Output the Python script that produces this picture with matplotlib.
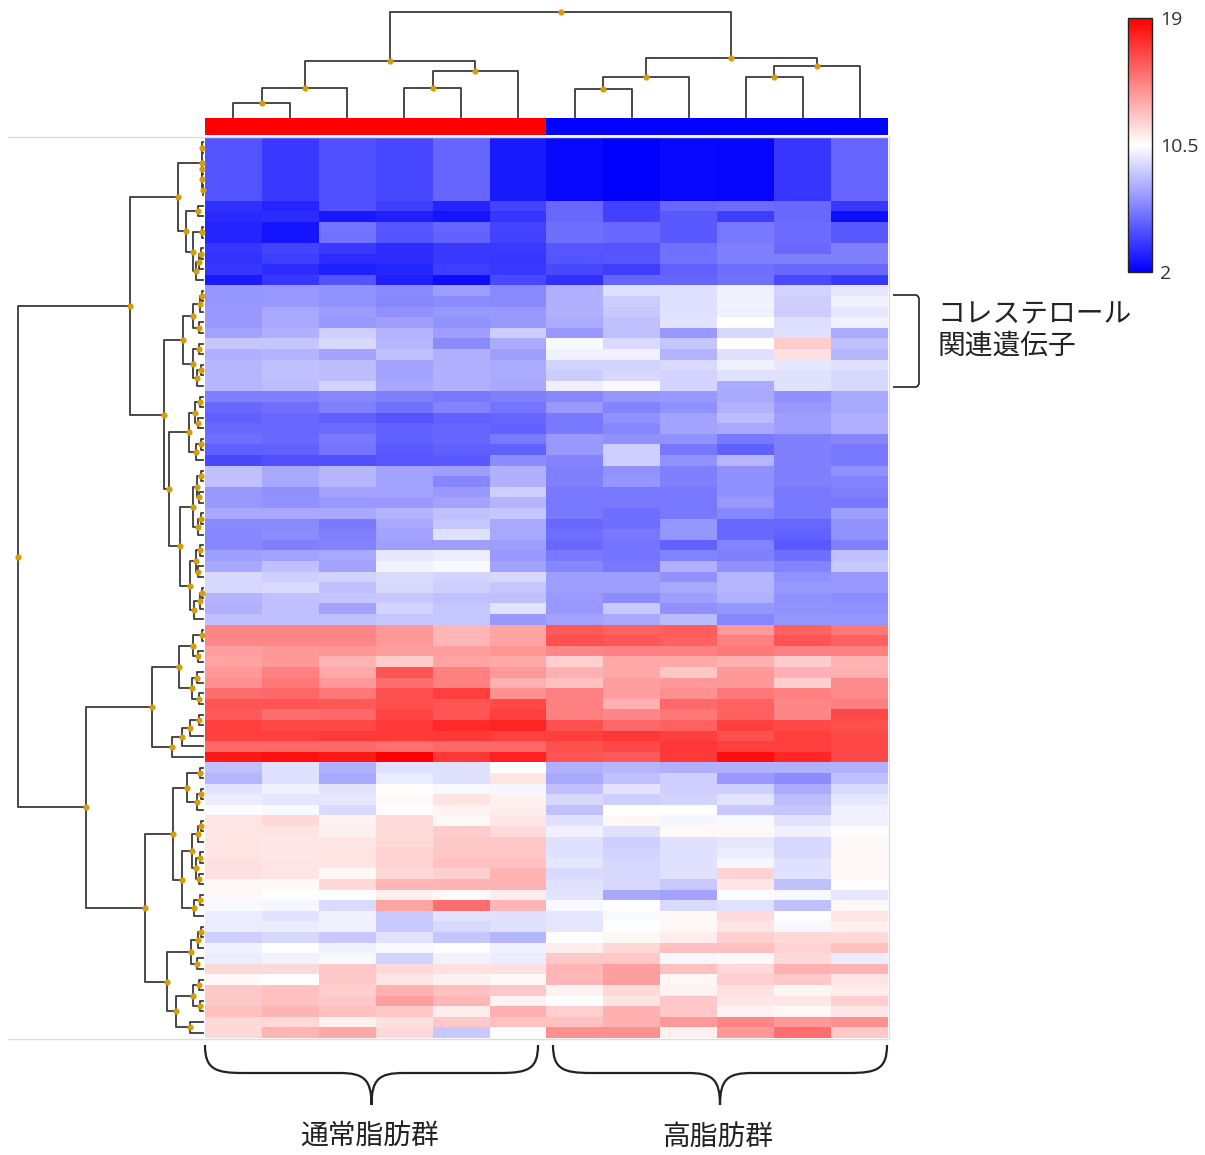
import numpy as np
import matplotlib
matplotlib.use('Agg')
import matplotlib.pyplot as plt
from matplotlib.path import Path
from matplotlib.patches import PathPatch
from matplotlib.cm import ScalarMappable
from matplotlib.colors import Normalize, ListedColormap

plt.rcParams['font.family'] = ['Noto Sans CJK JP', 'DejaVu Sans']

# ---- data ----
group_names = ['通常脂肪群', '高脂肪群']
group_sizes = [6, 6]
group_colors = ['#ff0000', '#0000ff']
cbar_ticks = [2, 10.5, 19]
cbar_labels = ['2', '10.5', '19']
vmin, vmax = 2, 19
side_label = ['コレステロール', '関連遺伝子']

# six identical rows at the top
block_a1 = [[4.8, 3.9, 4.7, 4.4, 5.4, 2.9, 2.3, 2.0, 2.3, 2.2, 3.8, 5.4]] * 6
block_a2 = [
    [3.6, 3.2, 4.7, 4.1, 3.2, 4.3, 5.5, 4.2, 5.5, 5.6, 5.5, 3.9],
    [3.4, 3.5, 2.8, 3.1, 2.7, 3.8, 5.5, 4.2, 5.0, 4.1, 5.5, 2.5],
    [3.2, 2.7, 5.9, 4.9, 5.4, 4.3, 5.7, 5.5, 5.0, 6.1, 5.6, 5.0],
    [3.2, 2.7, 5.8, 4.8, 5.3, 4.2, 5.7, 5.5, 5.0, 6.1, 5.6, 5.0],
    [3.8, 4.3, 3.9, 3.5, 3.9, 3.9, 4.9, 4.8, 5.8, 6.3, 5.5, 6.3],
    [3.7, 4.1, 3.5, 3.5, 3.9, 3.8, 4.8, 4.9, 5.8, 6.3, 6.3, 6.3],
    [3.8, 3.5, 3.1, 3.3, 4.1, 3.9, 4.4, 4.1, 5.2, 5.7, 5.5, 5.5],
    [2.9, 3.8, 4.8, 3.1, 2.5, 4.5, 3.6, 5.4, 5.4, 5.8, 4.5, 3.9],
]
# cholesterol related genes
block_b = [
    [7.0, 7.1, 6.9, 6.6, 7.3, 6.6, 7.9, 9.5, 9.5, 10.0, 9.1, 9.7],
    [7.0, 7.1, 6.9, 6.5, 6.7, 6.6, 7.9, 8.8, 9.5, 10.1, 8.9, 10.1],
    [7.1, 7.6, 7.2, 6.8, 7.1, 7.1, 7.9, 8.7, 9.5, 10.0, 8.8, 9.7],
    [7.1, 7.6, 7.1, 7.3, 6.9, 7.1, 7.7, 8.4, 9.6, 10.5, 9.4, 10.0],
    [7.5, 7.9, 8.9, 8.0, 7.3, 8.8, 7.1, 8.4, 7.1, 9.2, 9.5, 7.7],
    [8.6, 8.6, 9.2, 8.1, 6.6, 7.7, 10.3, 9.3, 8.6, 10.5, 12.2, 8.4],
    [7.9, 8.0, 7.5, 8.4, 7.9, 7.3, 10.0, 10.0, 8.0, 9.5, 11.5, 8.1],
    [8.1, 8.4, 8.3, 7.5, 7.9, 7.7, 9.1, 9.1, 9.3, 10.0, 9.7, 9.5],
    [8.1, 8.4, 8.3, 7.5, 7.9, 7.7, 8.8, 9.2, 9.1, 9.5, 9.5, 9.2],
    [8.1, 8.3, 9.1, 7.6, 7.9, 7.6, 10.0, 10.3, 9.1, 7.7, 9.5, 9.2],
]
block_c = [
    [6.3, 6.3, 6.5, 6.3, 6.0, 6.3, 6.5, 7.0, 7.1, 7.6, 6.8, 7.6],
    [5.5, 5.7, 6.3, 5.8, 6.4, 5.9, 7.1, 6.4, 6.8, 7.9, 7.1, 7.6],
    [5.2, 5.5, 5.2, 4.8, 5.3, 5.4, 6.1, 6.9, 7.5, 8.3, 7.3, 7.9],
    [5.5, 5.5, 5.6, 5.3, 5.4, 5.3, 6.1, 6.5, 7.5, 7.6, 7.3, 7.9],
    [5.7, 5.5, 6.1, 5.3, 5.4, 6.1, 7.1, 6.8, 6.9, 6.0, 6.3, 6.5],
    [5.2, 5.3, 5.9, 5.0, 5.2, 5.3, 7.1, 8.9, 6.0, 5.3, 6.3, 6.0],
    [4.4, 4.7, 4.7, 4.9, 5.0, 6.7, 6.4, 8.9, 6.9, 8.1, 6.3, 6.0],
]
block_d = [
    [8.4, 7.6, 8.1, 7.5, 7.3, 7.9, 6.3, 6.9, 6.3, 6.8, 6.3, 6.9],
    [8.4, 7.6, 8.1, 7.5, 6.5, 7.9, 6.3, 7.0, 6.3, 6.8, 6.3, 6.4],
    [7.1, 6.8, 7.5, 7.5, 7.1, 8.9, 6.0, 6.0, 6.0, 6.8, 6.0, 6.3],
    [7.1, 6.9, 7.1, 7.1, 7.5, 8.0, 6.0, 6.1, 6.0, 7.1, 6.0, 6.0],
    [7.6, 7.6, 7.6, 8.0, 8.4, 8.6, 6.0, 5.7, 6.1, 6.5, 6.0, 7.3],
    [6.6, 6.6, 6.1, 7.6, 8.6, 7.6, 5.5, 5.7, 7.0, 5.5, 5.5, 6.9],
    [6.5, 6.7, 6.3, 7.5, 9.5, 7.6, 5.7, 6.1, 7.0, 5.5, 5.3, 6.9],
    [6.5, 6.3, 6.4, 7.3, 7.3, 7.3, 5.5, 5.9, 5.3, 6.4, 5.0, 6.3],
    [7.3, 7.5, 7.6, 9.7, 9.9, 7.1, 6.1, 5.9, 6.4, 6.3, 5.7, 8.4],
    [7.6, 8.4, 7.5, 10.1, 10.3, 7.5, 6.5, 6.1, 7.9, 6.8, 6.4, 8.7],
    [9.2, 8.9, 9.1, 9.3, 9.1, 9.2, 7.3, 7.3, 6.8, 8.1, 6.9, 7.1],
    [9.2, 9.3, 8.4, 9.2, 8.9, 8.6, 7.3, 7.3, 7.6, 8.1, 7.1, 7.1],
    [8.0, 8.4, 8.6, 8.7, 8.4, 8.4, 7.1, 6.7, 7.3, 7.9, 6.8, 6.7],
    [7.9, 8.4, 7.5, 9.1, 8.6, 9.6, 7.1, 8.7, 6.8, 7.0, 6.9, 6.8],
    [8.4, 8.4, 8.4, 8.6, 8.6, 7.1, 7.5, 7.6, 8.2, 6.5, 7.0, 7.0],
]
block_e = [
    [14.5, 14.5, 14.5, 13.9, 12.9, 13.5, 16.0, 15.7, 15.9, 13.9, 15.7, 15.0],
    [14.5, 14.5, 14.5, 13.9, 12.9, 13.5, 16.3, 16.1, 15.7, 14.7, 16.2, 15.7],
    [13.7, 13.9, 14.0, 13.7, 13.7, 14.0, 14.5, 14.7, 14.7, 14.9, 14.7, 14.7],
    [13.5, 13.9, 13.0, 12.2, 13.5, 13.4, 12.1, 13.4, 13.4, 13.1, 12.2, 13.0],
    [13.9, 14.7, 13.4, 16.2, 14.7, 13.9, 13.1, 13.4, 12.4, 13.9, 13.1, 13.1],
    [14.2, 15.0, 13.9, 15.3, 14.7, 13.1, 12.6, 13.7, 13.9, 13.9, 12.1, 14.4],
    [15.3, 15.5, 15.0, 16.3, 16.9, 14.2, 14.7, 13.7, 14.2, 15.0, 14.7, 14.4],
    [16.2, 16.2, 16.1, 16.3, 16.2, 16.6, 14.7, 13.1, 15.5, 15.7, 14.5, 14.7],
    [16.0, 15.3, 15.5, 16.7, 16.2, 16.9, 14.7, 14.5, 15.0, 15.7, 14.5, 16.6],
    [16.9, 16.6, 16.6, 17.1, 17.6, 17.8, 16.3, 15.5, 15.7, 16.9, 16.6, 16.3],
    [16.9, 16.9, 17.1, 17.1, 17.1, 16.9, 16.9, 17.2, 16.9, 16.3, 16.9, 16.6],
    [15.5, 15.5, 15.5, 15.2, 15.5, 15.5, 16.3, 16.6, 17.2, 16.9, 16.9, 16.6],
    [18.2, 18.5, 18.2, 19.0, 17.2, 17.9, 16.2, 16.0, 17.1, 18.5, 17.7, 16.6],
]
block_f = [
    [8.4, 9.5, 7.9, 9.5, 9.5, 10.5, 7.9, 8.1, 7.9, 7.9, 7.9, 7.9],
    [8.1, 9.5, 7.6, 9.9, 9.5, 11.4, 7.6, 8.4, 8.9, 7.1, 6.7, 8.4],
    [9.6, 10.1, 9.6, 10.6, 10.3, 10.2, 8.4, 9.6, 8.9, 8.9, 7.7, 9.3],
    [9.9, 9.7, 9.7, 10.7, 11.4, 11.0, 9.2, 8.9, 9.1, 9.6, 8.3, 9.7],
    [10.4, 10.3, 9.3, 10.4, 10.9, 11.1, 8.4, 10.5, 10.5, 8.7, 8.6, 10.0],
    [11.4, 11.8, 10.9, 11.7, 10.7, 11.3, 9.5, 10.8, 10.2, 10.3, 9.6, 10.1],
    [11.4, 11.4, 11.0, 11.7, 12.2, 11.7, 10.0, 9.5, 10.7, 10.7, 10.0, 10.5],
    [11.4, 11.3, 11.3, 11.8, 12.3, 12.3, 9.5, 8.9, 9.5, 9.7, 9.2, 10.7],
    [11.4, 11.3, 11.4, 11.9, 12.3, 12.3, 9.5, 9.1, 9.5, 9.9, 9.2, 10.8],
    [11.5, 11.4, 11.4, 11.9, 12.6, 12.6, 9.7, 9.2, 9.5, 10.2, 9.5, 10.8],
    [11.5, 11.4, 10.8, 11.8, 12.1, 13.0, 9.3, 9.2, 9.5, 11.9, 9.5, 10.8],
    [10.8, 10.7, 11.8, 12.9, 13.0, 13.0, 9.5, 9.2, 8.7, 11.3, 8.4, 10.5],
    [10.7, 10.5, 10.5, 11.0, 10.7, 11.1, 9.6, 7.6, 7.5, 10.4, 10.3, 9.7],
    [10.3, 10.2, 9.3, 13.5, 15.3, 12.9, 10.3, 10.5, 9.3, 9.5, 8.4, 10.7],
    [9.9, 9.6, 10.1, 8.7, 9.6, 9.5, 9.7, 10.3, 10.7, 11.7, 10.5, 11.4],
    [9.9, 9.9, 10.1, 8.7, 9.2, 9.5, 9.7, 10.5, 10.8, 11.4, 10.3, 11.0],
    [8.9, 9.2, 8.7, 9.5, 8.6, 8.1, 10.5, 10.8, 11.1, 12.1, 11.8, 11.8],
    [10.1, 10.5, 10.1, 10.3, 10.6, 10.0, 11.1, 11.8, 12.6, 12.6, 11.9, 12.6],
    [9.9, 10.1, 10.3, 9.1, 10.1, 9.9, 12.3, 12.3, 10.2, 10.7, 11.8, 9.9],
    [11.8, 11.8, 12.3, 11.8, 11.5, 11.5, 12.9, 13.7, 12.6, 11.8, 13.1, 13.0],
    [10.7, 10.5, 12.3, 11.4, 11.0, 10.7, 12.9, 13.7, 10.8, 12.1, 12.3, 11.4],
    [12.3, 12.6, 12.1, 13.1, 12.6, 12.3, 10.9, 11.8, 10.9, 11.5, 10.8, 11.1],
    [12.3, 12.6, 12.3, 13.7, 12.9, 10.9, 10.5, 11.4, 12.3, 11.3, 11.3, 12.1],
    [12.6, 13.0, 12.6, 12.3, 11.1, 13.1, 12.1, 13.1, 12.3, 10.9, 10.8, 11.3],
    [11.8, 11.8, 11.0, 11.5, 12.3, 12.6, 12.6, 13.1, 13.9, 14.5, 13.9, 14.2],
    [11.8, 13.0, 13.4, 11.8, 8.7, 10.4, 14.2, 14.2, 11.0, 13.9, 15.3, 12.3],
]

# column clustering (height, left, right); leaves are column indices
col_tree = (105, (56, (29, (14, 0, 1), 2), (46, (29, 3, 4), 5)),
                 (59, (40, (28, 6, 7), 8), (51, (40, 9, 10), 11)))

# row clustering, leaves are row indices
tree_a = (25, (1, (0.6, 0, 1), (0.8, (0.6, 2, 3), (0.5, 4, 5))),
              (17, (5, 6, 7), (10, (1, 8, 9), (7, (4, (2, 10, 11), 12), 13))))
tree_b = (20, (10, (3, (1, 14, 15), 16), (4, 17, 18)),
              (10, (4, 19, 20), (6, (2, 21, 22), 23)))
tree_c = (14, (8, (3, 24, 25), (5, 26, 27)), (7, (2, 28, 29), 30))
tree_d = (23, (10, (6, (2, 31, 32), (4, 33, 34)), (5, (2, 35, 36), 37)),
              (13, (7, (3, 38, 39), (5, 40, 41)), (9, (3, (1, 42, 43), 44), 45)))
tree_e = (51, (24, (10, (1, 46, 47), (5, 48, 49)), (11, (6, 50, 51), (4, 52, 53))),
              (31, (21, (13, (4, 54, 55), 56), 57), 58))
tree_f = (58, (30, (16, (3, 59, 60), (6, (2, 61, 62), 63)),
                   (21, (11, (5, (2, 64, 65), 66), (7, (3, 67, 68), (4, 69, 70))),
                        (9, (3, 71, 72), 73))),
              (36, (12, (5, (2, 74, 75), 76), (6, 77, 78)),
                   (27, (10, (4, 79, 80), (3, 81, 82)), (13, 83, 84))))
row_tree = (185, (73, tree_a, (39, tree_b, (34, tree_c, tree_d))),
                 (117, tree_e, tree_f))

expr = np.array(block_a1 + block_a2 + block_b + block_c + block_d + block_e + block_f)
n_rows, n_cols = expr.shape

# ---- figure ----
W, H = 1205, 1155
fig = plt.figure(figsize=(W / 100, H / 100), dpi=100)
line_c = '#3a3a3a'
dot_c = '#d39e0c'


def px_axes(x0, y0, x1, y1):
    return fig.add_axes([x0 / W, 1 - y1 / H, (x1 - x0) / W, (y1 - y0) / H])


def draw_tree(ax, node, vertical):
    if not isinstance(node, tuple):
        return float(node), 0.0
    h, left, right = node
    p1, h1 = draw_tree(ax, left, vertical)
    p2, h2 = draw_tree(ax, right, vertical)
    pos = [p1, p1, p2, p2]
    hts = [h1, h, h, h2]
    if vertical:
        ax.plot(pos, hts, color=line_c, lw=1.3, clip_on=False, zorder=2)
        ax.plot((p1 + p2) / 2, h, 'o', color=dot_c, ms=4.5, mew=0, clip_on=False, zorder=3)
    else:
        ax.plot(hts, pos, color=line_c, lw=1.3, clip_on=False, zorder=2)
        ax.plot(h, (p1 + p2) / 2, 'o', color=dot_c, ms=4.5, mew=0, clip_on=False, zorder=3)
    return (p1 + p2) / 2, h


# heatmap
ax = px_axes(205, 137, 888, 1038)
ax.imshow(expr, cmap='bwr', vmin=vmin, vmax=vmax, aspect='auto', interpolation='nearest')
ax.set_xticks([])
ax.set_yticks([])
for s in ax.spines.values():
    s.set_visible(False)

# group colour bar
axg = px_axes(205, 118, 888, 135)
grp = np.repeat(np.arange(len(group_sizes)), group_sizes)[None, :]
axg.imshow(grp, cmap=ListedColormap(group_colors), aspect='auto', interpolation='nearest')
axg.axis('off')

# column dendrogram
axt = px_axes(205, 5, 888, 117)
draw_tree(axt, col_tree, True)
axt.set_xlim(-0.5, n_cols - 0.5)
axt.set_ylim(0, 112)
axt.axis('off')

# row dendrogram
axl = px_axes(8, 137, 203, 1038)
draw_tree(axl, row_tree, False)
axl.set_ylim(n_rows - 0.5, -0.5)
axl.set_xlim(195, 0)
axl.axis('off')

# colour scale
cax = px_axes(1128, 18, 1152, 272)
cb = fig.colorbar(ScalarMappable(norm=Normalize(vmin, vmax), cmap='bwr'), cax=cax, ticks=cbar_ticks)
cb.ax.set_yticklabels(cbar_labels, family=['Open Sans', 'DejaVu Sans'])
cb.ax.tick_params(length=0, labelsize=14, pad=6, colors='#333333')
cb.outline.set_edgecolor('#222222')
cb.outline.set_linewidth(1.0)

# annotations in pixel space
ov = px_axes(0, 0, W, H)
ov.set_xlim(0, W)
ov.set_ylim(H, 0)
ov.axis('off')
ov.patch.set_alpha(0)

ov.plot([8, 888], [136.5, 136.5], color='#dddddd', lw=1)
ov.plot([8, 888], [1038.5, 1038.5], color='#dddddd', lw=1)
ov.plot([888.5, 888.5], [137, 1038], color='#dddddd', lw=1)


def brace(x0, x1, ytop, ymid, ytip):
    xm = (x0 + x1) / 2
    verts = [(x0, ytop), (x0, ymid - 4), (x0 + 10, ymid), (x0 + 38, ymid),
             (xm - 32, ymid),
             (xm - 8, ymid), (xm, ymid + 6), (xm, ytip),
             (xm, ymid + 6), (xm + 8, ymid), (xm + 32, ymid),
             (x1 - 38, ymid),
             (x1 - 10, ymid), (x1, ymid - 4), (x1, ytop)]
    codes = [Path.MOVETO, Path.CURVE4, Path.CURVE4, Path.CURVE4,
             Path.LINETO,
             Path.CURVE4, Path.CURVE4, Path.CURVE4,
             Path.CURVE4, Path.CURVE4, Path.CURVE4,
             Path.LINETO,
             Path.CURVE4, Path.CURVE4, Path.CURVE4]
    ov.add_patch(PathPatch(Path(verts, codes), fill=False, ec='#222222', lw=1.6))
    return xm


x_edges = [205, 538, 553, 887]
for i, name in enumerate(group_names):
    xm = brace(x_edges[2 * i], x_edges[2 * i + 1], 1045, 1073, 1105)
    ov.text(xm - 2, 1137, name, ha='center', va='center', fontsize=20, color='#222222')

# bracket for the cholesterol genes
bverts = [(893, 295), (916, 295), (919, 296), (919, 299), (919, 383), (919, 386), (916, 387), (893, 387)]
bcodes = [Path.MOVETO, Path.LINETO, Path.CURVE3, Path.CURVE3, Path.LINETO, Path.CURVE3, Path.CURVE3, Path.LINETO]
ov.add_patch(PathPatch(Path(bverts, bcodes), fill=False, ec='#222222', lw=1.2))
ov.text(938, 314, side_label[0], ha='left', va='center', fontsize=20, color='#222222')
ov.text(938, 346, side_label[1], ha='left', va='center', fontsize=20, color='#222222')

fig.savefig('out.png', dpi=100)
